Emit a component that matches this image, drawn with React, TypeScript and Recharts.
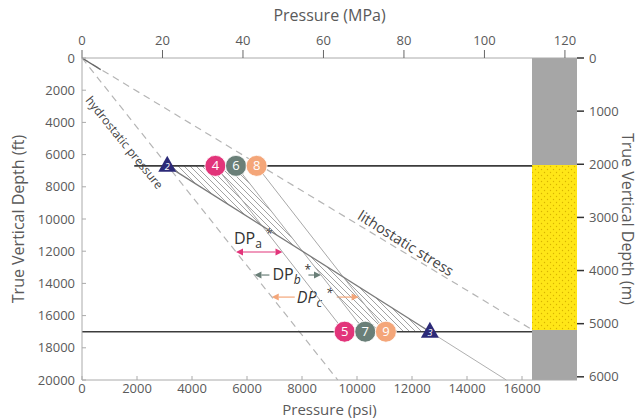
import React from 'react';
import { ComposedChart, Line, Scatter, XAxis, YAxis, ReferenceArea } from 'recharts';

// axis ranges
const PSI_MAX = 18000;
const MPA_MAX = 123;
const FT_MAX = 20000;
const M_MAX = 6060;

const psiTicks = [0, 2000, 4000, 6000, 8000, 10000, 12000, 14000, 16000];
const mpaTicks = [0, 20, 40, 60, 80, 100, 120];
const ftTicks = [0, 2000, 4000, 6000, 8000, 10000, 12000, 14000, 16000, 18000, 20000];
const mTicks = [0, 1000, 2000, 3000, 4000, 5000, 6000];

// reservoir top / base depths (ft)
const TOP_DEPTH = 6700;
const BASE_DEPTH = 17000;

// pressure points at top and base (psi)
const topCircleLabels = ['4', '6', '8'];
const topCirclePsi = [4850, 5600, 6350];
const baseCircleLabels = ['5', '7', '9'];
const baseCirclePsi = [9550, 10300, 11050];
const circleColors = ['#e2347a', '#6a7f78', '#f4a679'];

const triangleLabels = ['2', '3'];
const trianglePsi = [3100, 12650];
const triangleFt = [6700, 17000];

// gradient lines
const hydrostatic = [{ psi: 0, ft: 0 }, { psi: 9300, ft: 20000 }];
const lithostatic = [{ psi: 0, ft: 0 }, { psi: 16364, ft: 16870 }];
const lithostaticStart = [{ psi: 0, ft: 0 }, { psi: 680, ft: 720 }];
const reservoirLine = [{ psi: 3100, ft: 6700 }, { psi: 12650, ft: 17000 }];
const reservoirTail = [{ psi: 12650, ft: 17000 }, { psi: 15430, ft: 20000 }];

// secondary axis extent (MPa / m)
const secondaryRange = [{ mpa: 0, m: 0 }, { mpa: MPA_MAX, m: M_MAX }];

// lithology column
const COLUMN_PSI = 16364;
const columnTops = [0, 6650, 16900];
const columnBases = [6650, 16900, 20000];
const columnFills = ['#a6a6a6', 'url(#sand)', '#a6a6a6'];

// DP* arrows
const dpNames = ['a', 'b', 'c'];
const dpDepth = [12050, 13480, 14850];
const dpFrom = [5600, 6270, 6900];
const dpTo = [7290, 8690, 10060];

const FONT = '"Open Sans", sans-serif';
const TEXT = '#5a5a5a';

const circles = [
  ...topCircleLabels.map((l, i) => ({ psi: topCirclePsi[i], ft: TOP_DEPTH, label: l, color: circleColors[i] })),
  ...baseCircleLabels.map((l, i) => ({ psi: baseCirclePsi[i], ft: BASE_DEPTH, label: l, color: circleColors[i] })),
];
const triangles = triangleLabels.map((l, i) => ({ psi: trianglePsi[i], ft: triangleFt[i], label: l }));

const mapper = (p: any) => ({
  px: (psi: number) => p.x + (psi / PSI_MAX) * p.width,
  py: (ft: number) => p.y + (ft / FT_MAX) * p.height,
});

const HatchShape = (p: any) => {
  const { px, py } = mapper(p);
  const pts = [
    [trianglePsi[0], TOP_DEPTH],
    [topCirclePsi[1], TOP_DEPTH],
    [baseCirclePsi[1], BASE_DEPTH],
    [trianglePsi[1], BASE_DEPTH],
  ].map(([a, b]) => `${px(a)},${py(b)}`).join(' ');
  return (
    <g>
      <defs>
        <pattern id="hatch" patternUnits="userSpaceOnUse" width="6" height="6">
          <path d="M-1,-1 L7,7 M-1,5 L1,7 M5,-1 L7,1" stroke="#8a8a8a" strokeWidth="0.8" />
        </pattern>
        <pattern id="sand" patternUnits="userSpaceOnUse" width="6" height="6">
          <rect width="6" height="6" fill="#ffe617" />
          <circle cx="1.5" cy="1.5" r="0.7" fill="#d9b400" />
          <circle cx="4.5" cy="4.5" r="0.7" fill="#d9b400" />
        </pattern>
      </defs>
      <polygon points={pts} fill="url(#hatch)" stroke="none" />
    </g>
  );
};

const gaps = [null, [15, 54], [23, 65]];
const textOffsets = [[-2, -8], [18, 5], [25, 6]];

const AnnotationShape = (p: any) => {
  const { px, py } = mapper(p);
  return (
    <g fontFamily={FONT}>
      {dpNames.map((n, i) => {
        const y = py(dpDepth[i]);
        const xl = px(dpFrom[i]);
        const xr = px(dpTo[i]);
        const c = circleColors[i];
        const h = 7;
        const g = gaps[i];
        const segs = g ? [[xl + h, xl + g[0]], [xl + g[1], xr - h]] : [[xl + h, xr - h]];
        return (
          <g key={n}>
            {segs.map((s, k) => (
              <line key={k} x1={s[0]} x2={s[1]} y1={y} y2={y} stroke={c} strokeWidth={1.2} />
            ))}
            <polygon points={`${xl},${y} ${xl + h},${y - 3.5} ${xl + h},${y + 3.5}`} fill={c} />
            <polygon points={`${xr},${y} ${xr - h},${y - 3.5} ${xr - h},${y + 3.5}`} fill={c} />
            <text
              x={xl + textOffsets[i][0]}
              y={y + textOffsets[i][1]}
              fontSize={16}
              fill="#333"
              fontStyle={i === 2 ? 'italic' : 'normal'}
            >
              DP
              <tspan dy={4} fontSize={12} fontStyle={i === 0 ? 'normal' : 'italic'}>{n}</tspan>
              <tspan dy={-10} dx={4} fontSize={12}>*</tspan>
            </text>
          </g>
        );
      })}
      <text
        x={px(1550)}
        y={py(5250)}
        fontSize={12}
        fill="#444"
        textAnchor="middle"
        dominantBaseline="central"
        transform={`rotate(51 ${px(1550)} ${py(5250)})`}
      >
        hydrostatic pressure
      </text>
      <text
        x={px(11782)}
        y={py(11491)}
        fontSize={14.5}
        fill="#444"
        textAnchor="middle"
        dominantBaseline="central"
        transform={`rotate(32 ${px(11782)} ${py(11491)})`}
      >
        lithostatic stress
      </text>
    </g>
  );
};

const CircleMarker = (p: any) => {
  const { cx, cy, payload } = p;
  return (
    <g>
      <circle cx={cx} cy={cy} r={10.5} fill={payload.color} stroke="#fff" strokeWidth={0.8} />
      <text x={cx} y={cy} dy={4.5} textAnchor="middle" fontSize={13} fill="#fff" fontFamily={FONT}>
        {payload.label}
      </text>
    </g>
  );
};

const TriangleMarker = (p: any) => {
  const { cx, cy, payload } = p;
  return (
    <g>
      <polygon points={`${cx},${cy - 10} ${cx - 9},${cy + 6} ${cx + 9},${cy + 6}`} fill="#2c2a78" />
      <text x={cx} y={cy + 4} textAnchor="middle" fontSize={9} fill="#fff" fontFamily={FONT} fontStyle="italic">
        {payload.label}
      </text>
    </g>
  );
};

const tickStyle = { fill: TEXT, fontSize: 13, fontFamily: FONT };
const titleStyle = { fill: TEXT, fontSize: 16, fontFamily: FONT, textAnchor: 'middle' as const };
const bottomTitleStyle = { ...titleStyle, fontSize: 15 };

export default function App() {
  const ids = { xAxisId: 'psi', yAxisId: 'ft' };
  return (
    <div style={{ position: 'absolute', left: 0, top: 0, width: 639, height: 418, background: '#fff' }}>
      <ComposedChart width={639} height={418} margin={{ top: 0, right: 0, bottom: 0, left: 0 }}>
        <XAxis
          xAxisId="psi"
          type="number"
          dataKey="psi"
          domain={[0, PSI_MAX]}
          ticks={psiTicks}
          orientation="bottom"
          height={38}
          tick={tickStyle}
          tickSize={-4}
          tickMargin={8}
          axisLine={{ stroke: '#aaa' }}
          tickLine={{ stroke: '#aaa' }}
          label={{ value: 'Pressure (psi)', position: 'insideBottom', offset: 3, style: bottomTitleStyle }}
        />
        <XAxis
          xAxisId="mpa"
          type="number"
          dataKey="mpa"
          domain={[0, MPA_MAX]}
          allowDataOverflow
          ticks={mpaTicks}
          orientation="top"
          height={58}
          tick={tickStyle}
          tickSize={8}
          tickMargin={5}
          axisLine={{ stroke: '#aaa' }}
          tickLine={{ stroke: '#666' }}
          label={{ value: 'Pressure (MPa)', position: 'insideTop', offset: 10, style: titleStyle }}
        />
        <YAxis
          yAxisId="ft"
          type="number"
          dataKey="ft"
          domain={[0, FT_MAX]}
          reversed
          ticks={ftTicks}
          width={82}
          tick={tickStyle}
          tickSize={-4}
          tickMargin={11}
          axisLine={{ stroke: '#aaa' }}
          tickLine={{ stroke: '#aaa' }}
          label={{ value: 'True Vertical Depth (ft)', angle: -90, position: 'insideLeft', offset: 18, style: titleStyle }}
        />
        <YAxis
          yAxisId="m"
          orientation="right"
          type="number"
          dataKey="m"
          domain={[0, M_MAX]}
          allowDataOverflow
          reversed
          ticks={mTicks}
          width={62}
          tick={tickStyle}
          tickSize={7}
          tickMargin={5}
          axisLine={false}
          tickLine={{ stroke: '#333', strokeWidth: 1.5 }}
          label={{ value: 'True Vertical Depth (m)', angle: 90, position: 'insideRight', offset: 11, style: titleStyle }}
        />

        <Line xAxisId="mpa" yAxisId="m" data={secondaryRange} dataKey="m" stroke="none" dot={false} isAnimationActive={false} />

        <ReferenceArea {...ids} x1={0} x2={PSI_MAX} y1={0} y2={FT_MAX} shape={HatchShape} ifOverflow="visible" />

        <Line {...ids} data={hydrostatic} dataKey="ft" stroke="#b5b5b5" strokeWidth={1.2} strokeDasharray="7 5" dot={false} isAnimationActive={false} />
        <Line {...ids} data={lithostatic} dataKey="ft" stroke="#b5b5b5" strokeWidth={1.2} strokeDasharray="7 5" dot={false} isAnimationActive={false} />
        <Line {...ids} data={lithostaticStart} dataKey="ft" stroke="#666" strokeWidth={1.3} dot={false} isAnimationActive={false} />
        {topCirclePsi.map((v, i) => (
          <Line
            key={`pair-${i}`}
            {...ids}
            data={[{ psi: v, ft: TOP_DEPTH }, { psi: baseCirclePsi[i], ft: BASE_DEPTH }]}
            dataKey="ft"
            stroke="#a8a8a8"
            strokeWidth={1}
            dot={false}
            isAnimationActive={false}
          />
        ))}
        <Line {...ids} data={reservoirLine} dataKey="ft" stroke="#7a7a7a" strokeWidth={1.3} dot={false} isAnimationActive={false} />
        <Line {...ids} data={reservoirTail} dataKey="ft" stroke="#b0b0b0" strokeWidth={1} dot={false} isAnimationActive={false} />
        <Line {...ids} data={[{ psi: 1900, ft: TOP_DEPTH }, { psi: COLUMN_PSI, ft: TOP_DEPTH }]} dataKey="ft" stroke="#3c3c3c" strokeWidth={1.6} dot={false} isAnimationActive={false} />
        <Line {...ids} data={[{ psi: 0, ft: BASE_DEPTH }, { psi: COLUMN_PSI, ft: BASE_DEPTH }]} dataKey="ft" stroke="#3c3c3c" strokeWidth={1.6} dot={false} isAnimationActive={false} />

        {columnTops.map((t, i) => (
          <ReferenceArea key={`col-${i}`} {...ids} x1={COLUMN_PSI} x2={PSI_MAX} y1={t} y2={columnBases[i]} fill={columnFills[i]} fillOpacity={1} stroke="none" />
        ))}

        <ReferenceArea {...ids} x1={0} x2={PSI_MAX} y1={0} y2={FT_MAX} shape={AnnotationShape} ifOverflow="visible" />

        <Scatter {...ids} data={triangles} shape={TriangleMarker} isAnimationActive={false} />
        <Scatter {...ids} data={circles} shape={CircleMarker} isAnimationActive={false} />
      </ComposedChart>
    </div>
  );
}
